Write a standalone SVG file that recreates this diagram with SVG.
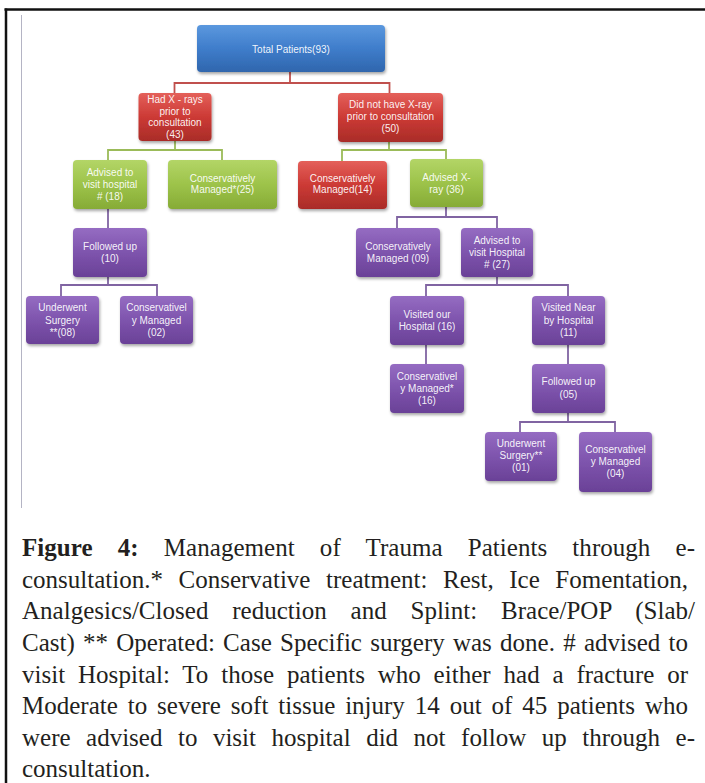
<svg xmlns="http://www.w3.org/2000/svg" width="705" height="783" viewBox="0 0 705 783">
<defs>
<linearGradient id="gBlue" x1="0" y1="0" x2="0" y2="1"><stop offset="0" stop-color="#5b98de"/><stop offset="0.5" stop-color="#3f7dcb"/><stop offset="1" stop-color="#2f66ad"/></linearGradient>
<linearGradient id="gRed" x1="0" y1="0" x2="0" y2="1"><stop offset="0" stop-color="#e4605a"/><stop offset="0.5" stop-color="#cc3a35"/><stop offset="1" stop-color="#a92c28"/></linearGradient>
<linearGradient id="gGreen" x1="0" y1="0" x2="0" y2="1"><stop offset="0" stop-color="#b3d567"/><stop offset="0.5" stop-color="#9dc34a"/><stop offset="1" stop-color="#86ab36"/></linearGradient>
<linearGradient id="gPurple" x1="0" y1="0" x2="0" y2="1"><stop offset="0" stop-color="#956cc2"/><stop offset="0.5" stop-color="#7e54ad"/><stop offset="1" stop-color="#6a4197"/></linearGradient>
<filter id="sh" x="-15%" y="-15%" width="135%" height="145%"><feDropShadow dx="1" dy="2" stdDeviation="1.5" flood-color="#000" flood-opacity="0.35"/></filter>
</defs>
<style>
.b{stroke:none;filter:url(#sh)}
.blue{fill:url(#gBlue)}
.red{fill:url(#gRed)}
.green{fill:url(#gGreen)}
.purple{fill:url(#gPurple)}
.t{font-family:"Liberation Sans",Arial,sans-serif;font-size:10px;fill:#ffffff;fill-opacity:0.93;text-anchor:middle}
.c{fill:none;stroke-width:1.8}
.cr{stroke:#c0504d}
.cg{stroke:#9bbb59}
.cp{stroke:#8064a2}
.cap{font-family:"Liberation Serif","Times New Roman",serif;font-size:25px;fill:#231f20}
</style>
<rect x="0" y="0" width="705" height="783" fill="#ffffff"/>
<g id="frame">
<line x1="4.5" y1="9.5" x2="705" y2="9.5" stroke="#111" stroke-width="2.5"/>
<line x1="6" y1="8.5" x2="6" y2="783" stroke="#111" stroke-width="2.5"/>
<line x1="21.5" y1="15" x2="21.5" y2="508" stroke="#b4b4c4" stroke-width="1"/>
</g>
<g id="connectors">
<path class="c cr" d="M290,72V83M174.5,93V83H389.5V93"/>
<path class="c cg" d="M175,141V150M108,160V150H222V160"/>
<path class="c cg" d="M389,142V150M342,161V150H446V159"/>
<path class="c cp" d="M108,209V228"/>
<path class="c cp" d="M108,277V285M61,296V285H157V296"/>
<path class="c cp" d="M446,207V217M397,228V217H497V228"/>
<path class="c cp" d="M497,277V285M426,296V285H568V296"/>
<path class="c cp" d="M426,345V364"/>
<path class="c cp" d="M568,345V364"/>
<path class="c cp" d="M568,413V422M520,432V422H615V432"/>
</g>
<g id="n1"><rect class="b blue" x="197" y="25" width="188" height="47" rx="4"/><text class="t" x="291" y="52.5">Total Patients(93)</text></g>
<g id="n2"><rect class="b red" x="138.5" y="93" width="73" height="48" rx="4"/><text class="t"><tspan x="175" y="102.5">Had X - rays</tspan><tspan x="175" y="114.5">prior to</tspan><tspan x="175" y="126">consultation</tspan><tspan x="175" y="137.5">(43)</tspan></text></g>
<g id="n3"><rect class="b red" x="338" y="93" width="105" height="49" rx="4"/><text class="t"><tspan x="390.5" y="107.5">Did not have X-ray</tspan><tspan x="390.5" y="120">prior to consultation</tspan><tspan x="390.5" y="132">(50)</tspan></text></g>
<g id="n4"><rect class="b green" x="73" y="160" width="74" height="49" rx="4"/><text class="t"><tspan x="110" y="175.5">Advised to</tspan><tspan x="110" y="187.5">visit hospital</tspan><tspan x="110" y="199.5"># (18)</tspan></text></g>
<g id="n5"><rect class="b green" x="168" y="160" width="109" height="49" rx="4"/><text class="t"><tspan x="222.5" y="181.5">Conservatively</tspan><tspan x="222.5" y="193">Managed*(25)</tspan></text></g>
<g id="n6"><rect class="b red" x="298" y="161" width="89" height="48" rx="4"/><text class="t"><tspan x="342.5" y="181.5">Conservatively</tspan><tspan x="342.5" y="193">Managed(14)</tspan></text></g>
<g id="n7"><rect class="b green" x="410" y="159" width="73" height="48" rx="4"/><text class="t"><tspan x="446.5" y="180.5">Advised X-</tspan><tspan x="446.5" y="192.5">ray (36)</tspan></text></g>
<g id="n8"><rect class="b purple" x="73" y="228" width="74" height="49" rx="4"/><text class="t"><tspan x="110" y="249.5">Followed up</tspan><tspan x="110" y="261.5">(10)</tspan></text></g>
<g id="n9"><rect class="b purple" x="26" y="296" width="73" height="48" rx="4"/><text class="t"><tspan x="62.5" y="311">Underwent</tspan><tspan x="62.5" y="323.5">Surgery</tspan><tspan x="62.5" y="336">**(08)</tspan></text></g>
<g id="n10"><rect class="b purple" x="120" y="296" width="73" height="48" rx="4"/><text class="t"><tspan x="156.5" y="311">Conservativel</tspan><tspan x="156.5" y="323.5">y Managed</tspan><tspan x="156.5" y="336">(02)</tspan></text></g>
<g id="n11"><rect class="b purple" x="356" y="228" width="84" height="49" rx="4"/><text class="t"><tspan x="398" y="250">Conservatively</tspan><tspan x="398" y="262">Managed (09)</tspan></text></g>
<g id="n12"><rect class="b purple" x="461" y="228" width="72" height="49" rx="4"/><text class="t"><tspan x="497" y="243.5">Advised to</tspan><tspan x="497" y="255.5">visit Hospital</tspan><tspan x="497" y="267.5"># (27)</tspan></text></g>
<g id="n13"><rect class="b purple" x="390" y="296" width="74" height="49" rx="4"/><text class="t"><tspan x="427" y="318">Visited our</tspan><tspan x="427" y="329.5">Hospital (16)</tspan></text></g>
<g id="n14"><rect class="b purple" x="532" y="296" width="73" height="49" rx="4"/><text class="t"><tspan x="568.5" y="311">Visited Near</tspan><tspan x="568.5" y="323.5">by Hospital</tspan><tspan x="568.5" y="336">(11)</tspan></text></g>
<g id="n15"><rect class="b purple" x="390" y="364" width="74" height="49" rx="4"/><text class="t"><tspan x="427" y="380">Conservativel</tspan><tspan x="427" y="392">y Managed*</tspan><tspan x="427" y="403.5">(16)</tspan></text></g>
<g id="n16"><rect class="b purple" x="532" y="364" width="73" height="49" rx="4"/><text class="t"><tspan x="568.5" y="385">Followed up</tspan><tspan x="568.5" y="397.5">(05)</tspan></text></g>
<g id="n17"><rect class="b purple" x="485" y="432" width="72" height="49" rx="4"/><text class="t"><tspan x="521" y="447">Underwent</tspan><tspan x="521" y="459">Surgery**</tspan><tspan x="521" y="471">(01)</tspan></text></g>
<g id="n18"><rect class="b purple" x="579" y="432" width="73" height="60" rx="4"/><text class="t"><tspan x="615.5" y="453">Conservativel</tspan><tspan x="615.5" y="465">y Managed</tspan><tspan x="615.5" y="477">(04)</tspan></text></g>
<g id="caption">
<text class="cap" x="22" y="556" word-spacing="18.9" textLength="673" lengthAdjust="spacing"><tspan font-weight="bold">Figure 4:</tspan> Management of Trauma Patients through e-</text>
<text class="cap" x="22" y="587.5" word-spacing="9.3" textLength="666" lengthAdjust="spacing">consultation.* Conservative treatment: Rest, Ice Fomentation,</text>
<text class="cap" x="22" y="619" word-spacing="17.5" textLength="673" lengthAdjust="spacing">Analgesics/Closed reduction and Splint: Brace/POP (Slab/</text>
<text class="cap" x="22" y="651" word-spacing="2" textLength="666" lengthAdjust="spacing">Cast) ** Operated: Case Specific surgery was done. # advised to</text>
<text class="cap" x="22" y="682.5" word-spacing="6.5" textLength="666" lengthAdjust="spacing">visit Hospital: To those patients who either had a fracture or</text>
<text class="cap" x="22" y="714" word-spacing="3.7" textLength="666" lengthAdjust="spacing">Moderate to severe soft tissue injury 14 out of 45 patients who</text>
<text class="cap" x="22" y="745.5" word-spacing="9.3" textLength="673" lengthAdjust="spacing">were advised to visit hospital did not follow up through e-</text>
<text class="cap" x="22" y="777">consultation.</text>
</g>
</svg>
